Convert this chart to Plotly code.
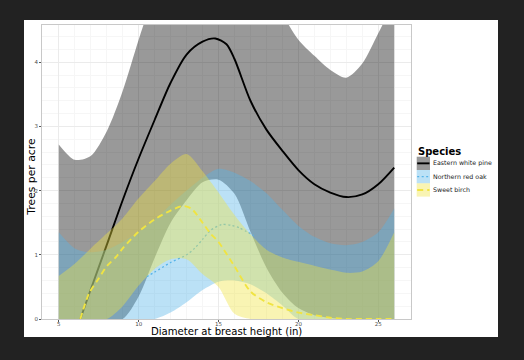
import plotly.graph_objects as go

# ---------------- data ----------------
dbh_grid = [5, 6, 7, 8, 9, 10, 11, 12, 13, 14, 15, 16, 17, 18, 19, 20, 21, 22, 23, 24, 25, 26]

pine_upper = [2.72, 2.48, 2.54, 2.92, 3.55, 4.35, 5.1, 5.8, 6.3, 6.5, 6.45, 6.1, 5.6, 5.2, 4.75, 4.35, 4.1, 3.88, 3.76, 3.98, 4.45, 4.95]
pine_lower = [0, 0, 0, 0, 0, 0.35, 0.95, 1.5, 1.85, 2.13, 2.17, 1.95, 1.36, 0.8, 0.41, 0.17, 0.06, 0.02, 0, 0, 0, 0]
oak_upper = [1.35, 1.1, 1.04, 1.08, 1.2, 1.36, 1.55, 1.78, 2.0, 2.2, 2.34, 2.28, 2.15, 1.96, 1.7, 1.45, 1.28, 1.18, 1.15, 1.2, 1.35, 1.72]
oak_lower = [0, 0, 0, 0, 0, 0, 0, 0.1, 0.26, 0.45, 0.58, 0.6, 0.54, 0.4, 0.21, 0, 0, 0, 0, 0, 0, 0]
birch_upper = [0.67, 0.86, 1.1, 1.33, 1.57, 1.88, 2.15, 2.42, 2.57, 2.3, 1.97, 1.62, 1.32, 1.08, 0.96, 0.89, 0.83, 0.77, 0.72, 0.74, 0.9, 1.35]
birch_lower = [0, 0, 0, 0, 0.2, 0.52, 0.78, 0.93, 0.93, 0.7, 0.5, 0.08, 0, 0, 0, 0, 0, 0, 0, 0, 0, 0]

pine_dbh = [6.35, 7, 8, 9, 10, 11, 12, 13, 14, 14.8, 15.5, 16, 17, 18, 19, 20, 21, 22, 23, 24, 25, 26]
pine_tpa = [0, 0.46, 1.15, 1.85, 2.5, 3.1, 3.68, 4.12, 4.32, 4.37, 4.28, 4.05, 3.4, 2.95, 2.62, 2.32, 2.1, 1.97, 1.9, 1.94, 2.1, 2.36]

oak_dbh = [10.5, 11, 12, 13, 13.5, 14, 14.5, 15.2, 15.8, 16.3, 17.2]
oak_tpa = [0.66, 0.73, 0.88, 1.0, 1.1, 1.24, 1.38, 1.47, 1.46, 1.42, 1.3]

birch_dbh = [6.35, 6.9, 7.5, 8, 8.6, 9, 10, 11, 12, 12.8, 13.3, 14, 14.5, 15, 16, 17, 18, 19, 20, 21, 22, 23, 24, 25, 26]
birch_tpa = [0, 0.4, 0.63, 0.82, 0.97, 1.1, 1.36, 1.55, 1.69, 1.76, 1.72, 1.5, 1.33, 1.2, 0.82, 0.43, 0.26, 0.17, 0.1, 0.06, 0.02, 0, 0, 0, 0]

species = ["Eastern white pine", "Northern red oak", "Sweet birch"]
x_ticks = [5, 10, 15, 20, 25]
y_ticks = [0, 1, 2, 3, 4]
x_title = "Diameter at breast height (in)"
y_title = "Trees per acre"
legend_title = "Species"

# ---------------- styling ----------------
line_colors = ["#000000", "#56B4E9", "#F0E442"]
fill_colors = ["rgba(0,0,0,0.4)", "rgba(86,180,233,0.4)", "rgba(240,228,66,0.4)"]
dashes = ["solid", "2px,2.5px", "6px,4px"]
widths = [1.9, 1.3, 1.9]
FONT = "DejaVu Sans"

W, H = 524, 360
ML, MR, MT, MB = 42, 113, 25, 41
PW, PH = W - ML - MR, H - MT - MB


def px(xp):
    return (xp - ML) / PW


def py(yp):
    return (H - MB - yp) / PH


fig = go.Figure()

groups = [
    (pine_lower, pine_upper, pine_dbh, pine_tpa),
    (oak_lower, oak_upper, oak_dbh, oak_tpa),
    (birch_lower, birch_upper, birch_dbh, birch_tpa),
]
for i, (lo, hi, lx, ly) in enumerate(groups):
    fig.add_trace(go.Scatter(x=dbh_grid, y=lo, mode="lines", line=dict(width=0, shape="spline", smoothing=0.8),
                             showlegend=False, hoverinfo="skip"))
    fig.add_trace(go.Scatter(x=dbh_grid, y=hi, mode="lines", fill="tonexty", fillcolor=fill_colors[i],
                             line=dict(width=0, shape="spline", smoothing=0.8),
                             showlegend=False, hoverinfo="skip"))
    fig.add_trace(go.Scatter(x=lx, y=ly, mode="lines", name=species[i],
                             line=dict(color=line_colors[i], width=widths[i], dash=dashes[i],
                                       shape="spline", smoothing=0.8),
                             showlegend=False))

# white card behind the chart
shapes = [dict(type="rect", xref="paper", yref="paper", x0=px(24), x1=px(498), y0=py(337), y1=py(20),
               fillcolor="white", line=dict(width=0), layer="below")]
annotations = []

# manual ggplot-style legend
key_x0, key_x1 = 416.7, 430
row_tops = [156.7, 170, 183.3]
row_h = 13.3
for i, name in enumerate(species):
    t = row_tops[i]
    shapes.append(dict(type="rect", xref="paper", yref="paper", x0=px(key_x0), x1=px(key_x1),
                       y0=py(t + row_h), y1=py(t), fillcolor=fill_colors[i], line=dict(width=0)))
    shapes.append(dict(type="line", xref="paper", yref="paper", x0=px(key_x0 + 0.5), x1=px(key_x1 - 0.5),
                       y0=py(t + row_h / 2), y1=py(t + row_h / 2),
                       line=dict(color=line_colors[i], width=widths[i], dash=dashes[i])))
    annotations.append(dict(text=name, xref="paper", yref="paper", x=px(431), y=py(t + row_h / 2),
                            xanchor="left", yanchor="middle", showarrow=False,
                            font=dict(family=FONT, size=6.3, color="#1a1a1a")))
annotations.append(dict(text="<b>" + legend_title + "</b>", xref="paper", yref="paper", x=px(416), y=py(151.7),
                        xanchor="left", yanchor="middle", showarrow=False,
                        font=dict(family=FONT, size=10, color="#000000")))

# axis titles
annotations.append(dict(text=x_title, xref="paper", yref="paper", x=0.5, y=py(331),
                        xanchor="center", yanchor="middle", showarrow=False,
                        font=dict(family=FONT, size=10.1, color="#000000")))
annotations.append(dict(text=y_title, xref="paper", yref="paper", x=px(32), y=py(176.7), textangle=-90,
                        xanchor="center", yanchor="middle", showarrow=False,
                        font=dict(family=FONT, size=10.8, color="#000000")))

axis_common = dict(
    showline=True, mirror=True, linecolor="#c8c8c8", linewidth=1,
    showgrid=True, gridcolor="#ebebeb", gridwidth=0.6,
    minor=dict(showgrid=True, gridcolor="#f6f6f6", gridwidth=0.4),
    ticks="outside", ticklen=2, tickwidth=0.6, tickcolor="#555555",
    tickfont=dict(family=FONT, size=5.5, color="#4d4d4d"),
    zeroline=False,
)

fig.update_layout(
    width=W, height=H,
    margin=dict(l=ML, r=MR, t=MT, b=MB, pad=0),
    paper_bgcolor="#222222",
    plot_bgcolor="rgba(0,0,0,0)",
    shapes=shapes,
    annotations=annotations,
    xaxis=dict(range=[3.95, 27.05], tickvals=x_ticks, ticktext=[str(v) for v in x_ticks],
               ticklabelstandoff=-3, **axis_common),
    yaxis=dict(range=[0, 4.58], tickvals=y_ticks, ticktext=[str(v) for v in y_ticks],
               **axis_common),
    showlegend=False,
)

fig.write_html(
    "out.html",
    config={"displayModeBar": False},
    post_script="document.body.style.margin='0';document.body.style.background='#222222';"
                "document.documentElement.style.overflow='hidden';",
)
